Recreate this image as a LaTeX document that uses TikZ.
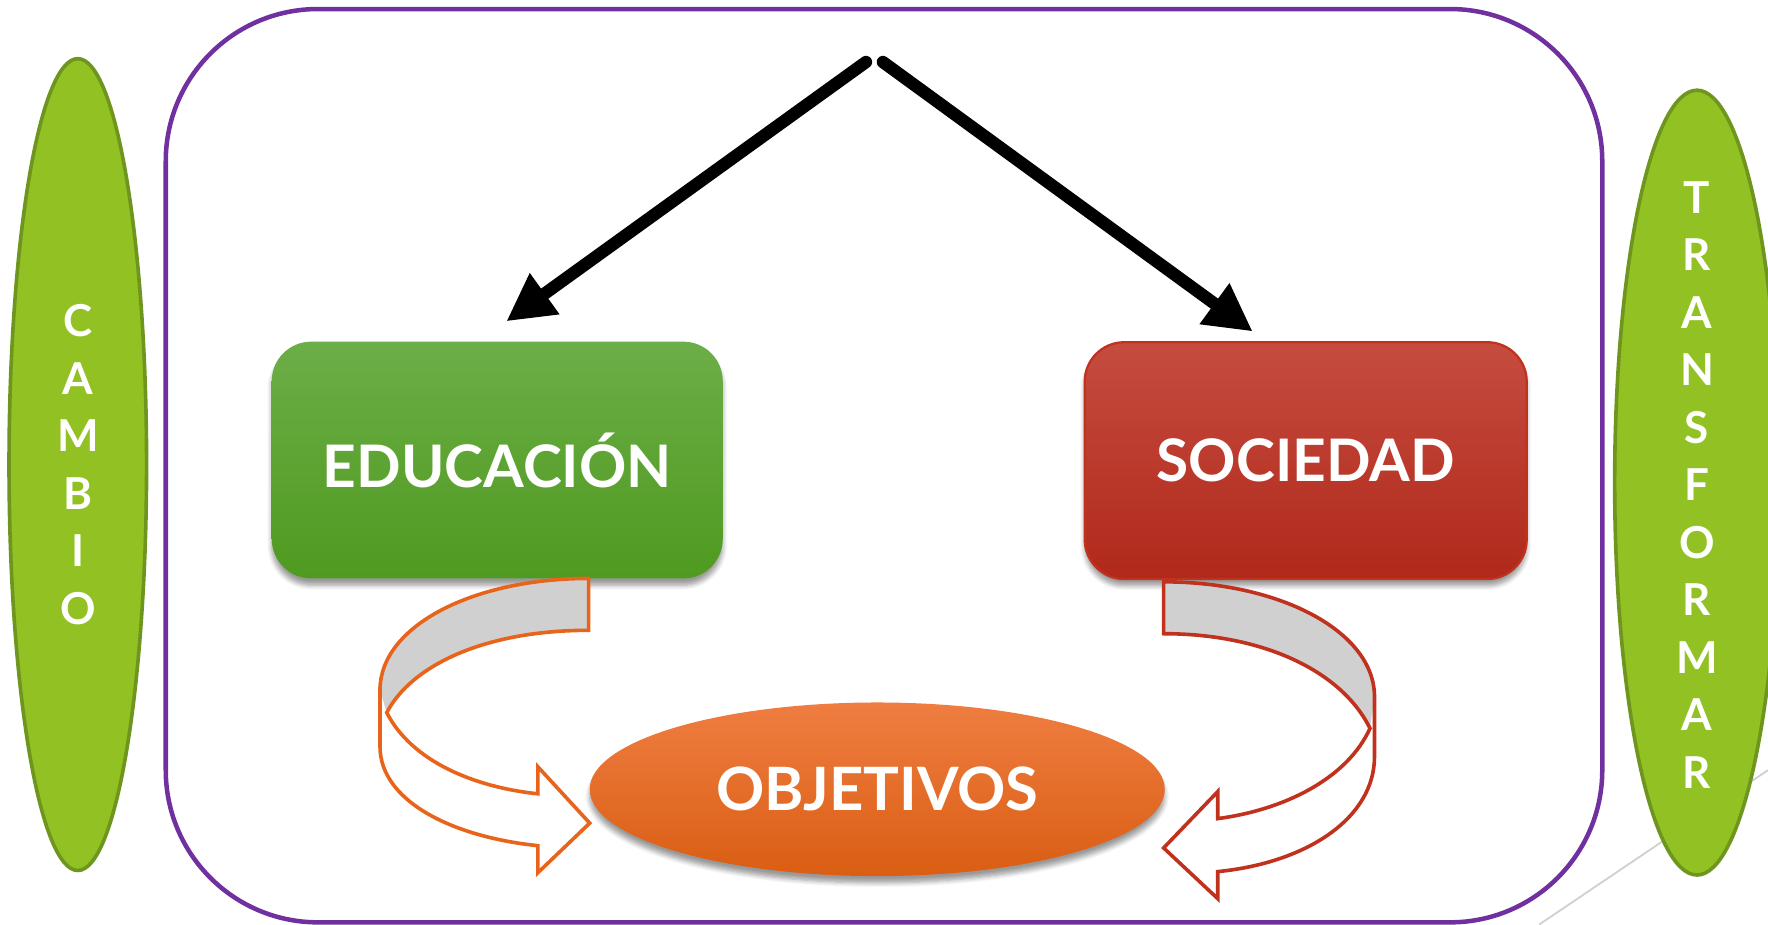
\documentclass[tikz,border=0pt]{standalone}
\usepackage{fontspec}
\setmainfont{Lato}
\usetikzlibrary{arrows.meta,shapes.geometric,shadows.blur}
\definecolor{frameP}{HTML}{7030A0}
\definecolor{leafF}{HTML}{92C124}
\definecolor{leafD}{HTML}{6E951E}
\definecolor{eduT}{HTML}{6CAE47}
\definecolor{eduB}{HTML}{4F9A20}
\definecolor{socT}{HTML}{C64C40}
\definecolor{socB}{HTML}{B0291A}
\definecolor{socD}{HTML}{C0311E}
\definecolor{objT}{HTML}{EF7D41}
\definecolor{objB}{HTML}{DA5E13}
\definecolor{orgL}{HTML}{E8641B}
\definecolor{redL}{HTML}{C0311E}
\definecolor{band}{HTML}{D0D0D0}
\begin{document}
\begin{tikzpicture}[x=0.5pt,y=-0.5pt,
  leaf/.style={ellipse, draw=leafD, line width=1.6pt, fill=leafF, inner sep=0pt},
  vword/.style={text=white, font=\bfseries\fontsize{19.5}{25.5}\selectfont, align=center},
  box/.style={rounded corners=17.5pt, minimum width=200pt, minimum height=105pt, inner sep=0pt,
    text=white, font=\bfseries\fontsize{26}{31}\selectfont,
    blur shadow={shadow xshift=0pt, shadow yshift=-3pt, shadow blur steps=6, shadow opacity=40}},
  bigarrow/.style={line width=5.5pt, line cap=round, -{Triangle[length=21pt,width=21pt]}},
  ribbon/.style={line width=1.6pt, line join=miter}
]
\useasboundingbox (0,0) rectangle (1568,820);
% faint gray line
\coordinate (g1) at (1365,820);
\coordinate (g2) at (1568,683);
\draw[band, line width=0.8pt] (g1) -- (g2);
% frame
\draw[frameP, line width=2pt, rounded corners=67.5pt] (147,8) rectangle (1421,818);
% side ellipses
\node[leaf, minimum width=61pt, minimum height=360pt] (cambio) at (69,412) {};
\node[vword] at (cambio.center) {C\\A\\M\\B\\I\\O};
\node[leaf, minimum width=73pt, minimum height=348pt] (transf) at (1505,428) {};
\node[vword] at (1505,430) {T\\R\\A\\N\\S\\F\\O\\R\\M\\A\\R};
% boxes
\node[box, top color=eduT, bottom color=eduB] (edu) at (441,408) {EDUCACIÓN};
\node[box, top color=socT, bottom color=socB, draw=socD, line width=1pt, minimum width=196pt] (soc) at (1158,408.5) {SOCIEDAD};
% top arrows
\coordinate (sL) at (768,55);
\coordinate (tL) at (449,285);
\coordinate (sR) at (783,55);
\coordinate (tR) at (1111,294);
\draw[bigarrow] (sL) -- (tL);
\draw[bigarrow] (sR) -- (tR);
% objetivos
\node[ellipse, minimum width=255pt, minimum height=77pt, inner sep=0pt, top color=objT, bottom color=objB,
  text=white, font=\bfseries\fontsize{26.5}{31}\selectfont,
  blur shadow={shadow xshift=0pt, shadow yshift=-3pt, shadow blur steps=6, shadow opacity=40}] (obj) at (778,700) {OBJETIVOS};
% left curved arrow
\fill[band] (522,513) .. controls (420,513) and (337,555) .. (337,612) -- (343,632)
  .. controls (365,590) and (430,559) .. (522,559) -- cycle;
\draw[orgL, ribbon] (522,559) -- (522,513) .. controls (420,513) and (337,555) .. (337,612) -- (337,662)
  .. controls (337,710) and (400,742) .. (477,750) -- (477,774) -- (523,730) -- (477,680) -- (477,704)
  .. controls (420,698) and (365,675) .. (343,632) .. controls (365,590) and (430,559) .. (522,559) -- cycle;
% right curved arrow
\fill[band] (1032,516) .. controls (1135,516) and (1219,560) .. (1219,618) -- (1215,646)
  .. controls (1190,595) and (1120,562) .. (1032,562) -- cycle;
\draw[redL, ribbon] (1032,562) -- (1032,516) .. controls (1135,516) and (1219,560) .. (1219,618) -- (1219,671)
  .. controls (1219,725) and (1160,765) .. (1080,773) -- (1080,797) -- (1032,752) -- (1080,702) -- (1080,726)
  .. controls (1140,718) and (1195,690) .. (1215,646) .. controls (1190,595) and (1120,562) .. (1032,562) -- cycle;
\end{tikzpicture}
\end{document}
